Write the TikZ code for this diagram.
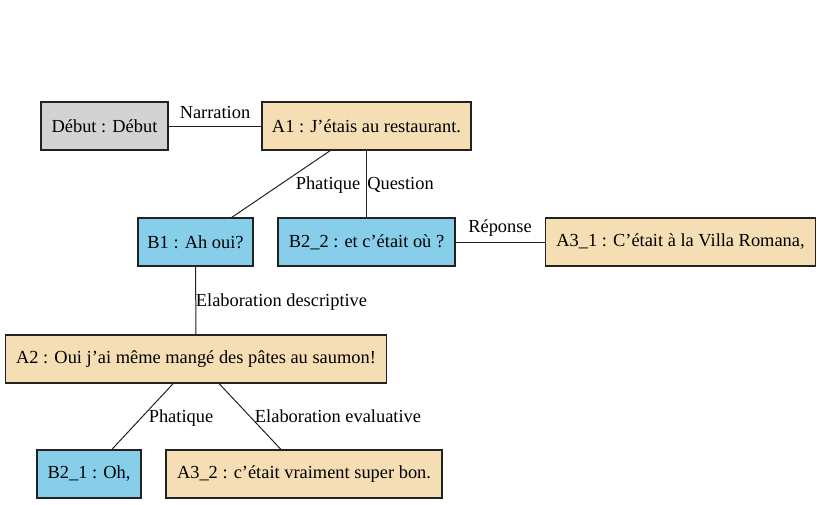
\documentclass[tikz,border=0pt]{standalone}
\usepackage{fontspec}
\setmainfont{Liberation Serif}
\definecolor{cgray}{HTML}{D3D3D3}
\definecolor{cwheat}{HTML}{F5DEB3}
\definecolor{csky}{HTML}{87CEEB}
\definecolor{cline}{HTML}{222222}
\begin{document}
\begin{tikzpicture}[x=0.75pt,y=-0.75pt,
  every node/.style={font=\fontsize{13.8pt}{16pt}\selectfont},
  box/.style={draw=cline,line width=0.8pt,rectangle,inner sep=0pt,minimum height=36pt},
  gbox/.style={box,fill=cgray},
  wbox/.style={box,fill=cwheat},
  sbox/.style={box,fill=csky},
  lab/.style={inner sep=0pt,anchor=base},
  edge/.style={draw=cline,line width=0.75pt}]
\useasboundingbox (0,0) rectangle (817,504);
\node[gbox,minimum width=127*0.75pt] (deb) at (104.5,126) {Début : Début};
\node[wbox,minimum width=209*0.75pt] (a1) at (366.5,126) {A1 : J’étais au restaurant.};
\node[sbox,minimum width=115*0.75pt] (b1) at (195.5,242) {B1 : Ah oui?};
\node[sbox,minimum width=177*0.75pt] (b22) at (366.5,242) {B2\_2 : et c’était où ?};
\node[wbox,minimum width=270*0.75pt] (a31) at (680.5,242) {A3\_1 : C’était à la Villa Romana,};
\node[wbox,minimum width=381*0.75pt] (a2) at (196,359) {A2 : Oui j’ai même mangé des pâtes au saumon!};
\node[sbox,minimum width=104*0.75pt] (b21) at (89,474) {B2\_1 : Oh,};
\node[wbox,minimum width=276*0.75pt] (a32) at (304,474) {A3\_2 : c’était vraiment super bon.};
\path[edge] (deb) -- (a1);
\path[edge] (a1) -- (b1);
\path[edge] (a1) -- (b22);
\path[edge] (b22) -- (a31);
\path[edge] (b1) -- (a2);
\path[edge] (a2) -- (b21);
\path[edge] (a2) -- (a32);
\node[lab] (l1) at (215,118) {Narration};
\node[lab] (l2) at (328,189) {Phatique};
\node[lab] (l3) at (400.5,189) {Question};
\node[lab] (l4) at (500,232) {Réponse};
\node[lab] (l5) at (281.5,306) {Elaboration descriptive};
\node[lab] (l6) at (181,422) {Phatique};
\node[lab] (l7) at (338,422) {Elaboration evaluative};
\end{tikzpicture}
\end{document}
